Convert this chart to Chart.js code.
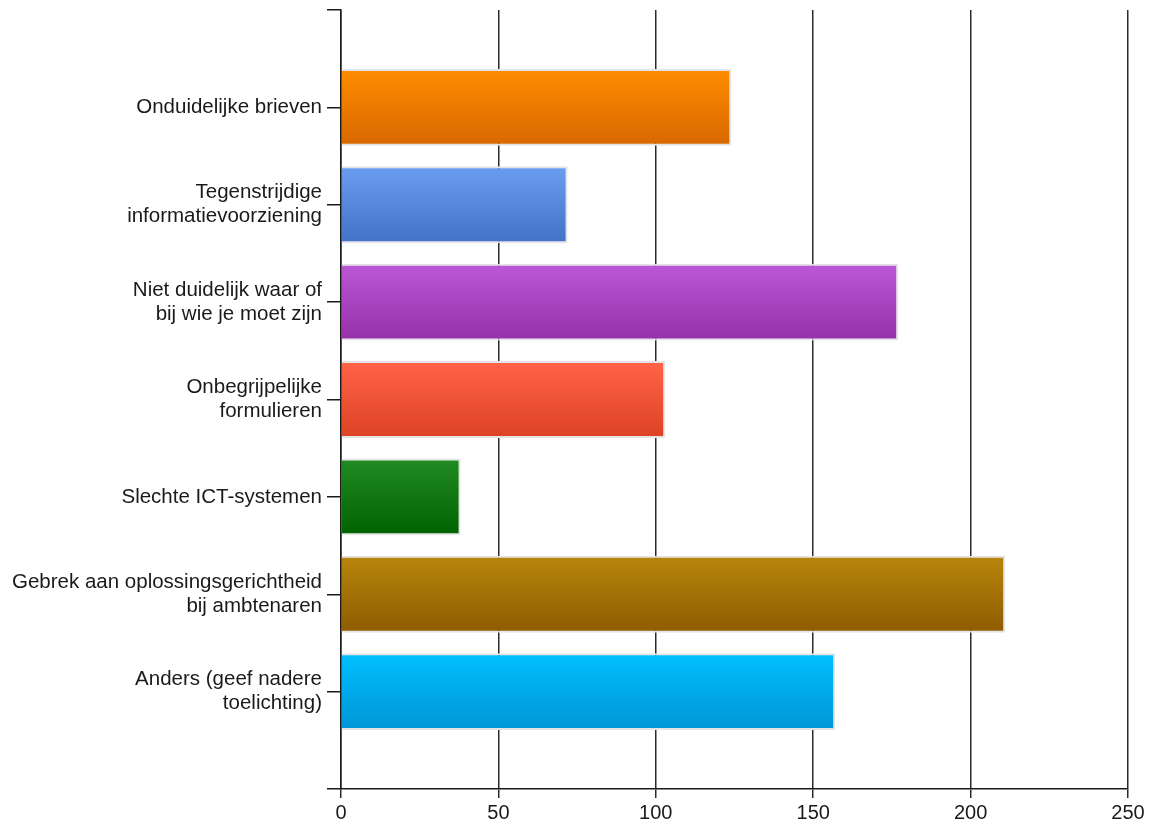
<!DOCTYPE html>
<html>
<head>
<meta charset="utf-8">
<script src="https://cdn.jsdelivr.net/npm/chart.js@4"></script>
<style>
  html, body { margin: 0; padding: 0; background: #fff; }
  #wrap { width: 1156px; height: 820px; }
</style>
</head>
<body>
<div id="wrap"><canvas id="grafico" width="1156" height="820"></canvas></div>
<script>
// datos
const categorias = [
  ["Onduidelijke brieven"],
  ["Tegenstrijdige", "informatievoorziening"],
  ["Niet duidelijk waar of", "bij wie je moet zijn"],
  ["Onbegrijpelijke", "formulieren"],
  ["Slechte ICT-systemen"],
  ["Gebrek aan oplossingsgerichtheid", "bij ambtenaren"],
  ["Anders (geef nadere", "toelichting)"],
];
const valores = [124, 72, 177, 103, 38, 211, 157];
const ticksX = [0, 50, 100, 150, 200, 250];

// colores (arriba, abajo) de cada barra
const coloresArriba = ["#ff8c00", "#6a9cf0", "#bc57d6", "#ff6448", "#228b22", "#b8860b", "#00bfff"];
const coloresAbajo = ["#d86800", "#4272c6", "#9530a8", "#dc4224", "#006200", "#8e5c00", "#0096d6"];

// un hueco vacio arriba y abajo, como en el original
const etiquetas = [""].concat(categorias, [""]);
const datos = [null].concat(valores, [null]);

const PCT_BARRA = 0.79;

function degradado(ctx) {
  const chart = ctx.chart;
  const i = ctx.dataIndex - 1;
  const y = chart.scales.y;
  if (i < 0 || i >= valores.length) return "#fff";
  if (!y || !chart.chartArea) return coloresArriba[i];
  const centro = y.getPixelForValue(ctx.dataIndex);
  const mitad = ((y.bottom - y.top) / (etiquetas.length - 1)) * PCT_BARRA / 2;
  const g = chart.ctx.createLinearGradient(0, centro - mitad, 0, centro + mitad);
  g.addColorStop(0, coloresArriba[i]);
  g.addColorStop(1, coloresAbajo[i]);
  return g;
}

Chart.defaults.font.family = "'Liberation Sans', Arial, sans-serif";
Chart.defaults.color = "#1a1a1a";

new Chart(document.getElementById("grafico").getContext("2d"), {
  type: "bar",
  data: {
    labels: etiquetas,
    datasets: [
      {
        data: datos,
        backgroundColor: degradado,
        borderColor: "#e4e4e4",
        borderWidth: 2,
        borderSkipped: "start",
        barPercentage: PCT_BARRA,
        categoryPercentage: 1,
      },
    ],
  },
  options: {
    indexAxis: "y",
    responsive: false,
    animation: false,
    layout: { padding: { top: 10, right: 28, left: 0, bottom: 0 } },
    plugins: {
      legend: { display: false },
      tooltip: { enabled: false },
    },
    scales: {
      x: {
        type: "linear",
        min: 0,
        max: 250,
        afterBuildTicks: (s) => {
          s.ticks = ticksX.map((v) => ({ value: v }));
        },
        afterFit: (s) => {
          s.height = 31;
        },
        grid: {
          color: "#2a2a2a",
          lineWidth: 1.5,
          tickLength: 9,
        },
        border: { color: "#1a1a1a", width: 1.5 },
        ticks: {
          padding: 5,
          font: { size: 20, lineHeight: 1 },
        },
      },
      y: {
        type: "category",
        offset: false,
        z: 1,
        afterFit: (s) => {
          s.width = 341;
          s.paddingTop = 0;
          s.paddingBottom = 0;
        },
        grid: {
          offset: false,
          drawOnChartArea: false,
          color: "#1a1a1a",
          lineWidth: 1.5,
          tickLength: 14,
        },
        border: { color: "#1a1a1a", width: 1.5 },
        ticks: {
          autoSkip: false,
          padding: 5,
          font: { size: 20.5, lineHeight: 1.17 },
        },
      },
    },
  },
});
</script>
</body>
</html>
